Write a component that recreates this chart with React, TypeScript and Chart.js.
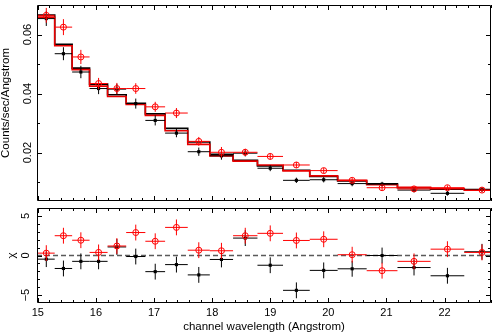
import React, { useEffect, useRef } from "react";
import { Chart, registerables } from "chart.js";

Chart.register(...registerables);

// ---------------- data ----------------
const binEdges = [15.0, 15.29, 15.59, 15.89, 16.2, 16.52, 16.85, 17.19, 17.58, 17.96, 18.36, 18.78, 19.22, 19.68, 20.16, 20.66, 21.19, 21.76, 22.34, 22.95];

const blackModel = [0.0666, 0.0567, 0.0486, 0.0432, 0.0396, 0.0367, 0.0331, 0.0282, 0.0236, 0.0194, 0.0174, 0.0155, 0.014, 0.0119, 0.0104, 0.0094, 0.0081, 0.0076, 0.0075];
const redModel = [0.0659, 0.0562, 0.0481, 0.0425, 0.039, 0.0363, 0.0326, 0.0274, 0.0228, 0.0189, 0.0171, 0.0158, 0.0138, 0.0121, 0.0106, 0.0091, 0.0082, 0.0078, 0.0073];

const blackData = [0.0654, 0.0535, 0.0473, 0.0417, 0.0415, 0.0366, 0.0309, 0.0266, 0.0203, 0.0189, 0.0198, 0.0147, 0.0106, 0.0108, 0.0095, 0.0093, 0.0073, 0.0062, 0.0075];
const blackErr = [0.0025, 0.0022, 0.0021, 0.0019, 0.0018, 0.0017, 0.0017, 0.0014, 0.0014, 0.0013, 0.0011, 0.001, 0.0009, 0.0009, 0.0009, 0.0008, 0.0008, 0.0008, 0.0008];
const redData = [0.0665, 0.0625, 0.0524, 0.0434, 0.0417, 0.0417, 0.0355, 0.0334, 0.0238, 0.0201, 0.0201, 0.0187, 0.0158, 0.0139, 0.0106, 0.0081, 0.0077, 0.0081, 0.0073];
const redErr = [0.0025, 0.0027, 0.0024, 0.0019, 0.0019, 0.0018, 0.0017, 0.0017, 0.0015, 0.0018, 0.0012, 0.0011, 0.001, 0.0009, 0.0009, 0.0008, 0.0008, 0.0008, 0.0008];

const blackChi = [-0.46, -1.64, -0.74, -0.74, 1.08, -0.13, -2.04, -1.15, -2.45, -0.5, 2.2, -1.23, -4.4, -1.88, -1.68, 0.0, -1.52, -2.56, 0.47];
const redChi = [0.3, 2.5, 1.93, 0.39, 1.2, 2.9, 1.8, 3.55, 0.67, 0.6, 2.5, 2.8, 1.9, 2.05, 0.1, -1.92, -0.74, 0.8, 0.39];
const chiErr = 1;

const xTicks = [15, 16, 17, 18, 19, 20, 21, 22];
const topYTicks = [0.02, 0.04, 0.06];
const botYTicks = [-5, 0, 5];

const X_MIN = 14.985;
const X_MAX = 22.8;
const TOP_Y_MIN = 0.0036;
const TOP_Y_MAX = 0.07;
const BOT_Y_MIN = -6;
const BOT_Y_MAX = 6;

const FONT = "'Liberation Sans', Arial, sans-serif";
const BLACK = "#000000";
const RED = "#ff0000";
const RED_MODEL = "#e80000";

// ---------------- helpers ----------------
const centers = blackData.map((_, i) => (binEdges[i] + binEdges[i + 1]) / 2);

function stepData(model: number[]) {
  return binEdges.map((e, i) => ({ x: e, y: model[Math.min(i, model.length - 1)] }));
}

function barData(vals: number[], errs: number[] | number) {
  const pts: { x: number; y: number | null }[] = [];
  vals.forEach((v, i) => {
    const e = typeof errs === "number" ? errs : errs[i];
    pts.push({ x: binEdges[i], y: v }, { x: binEdges[i + 1], y: v }, { x: binEdges[i + 1], y: null });
    pts.push({ x: centers[i], y: v - e }, { x: centers[i], y: v + e }, { x: centers[i], y: null });
  });
  return pts;
}

function pointData(vals: number[]) {
  return vals.map((v, i) => ({ x: centers[i], y: v }));
}

function lineDs(data: any[], color: string, width: number, order: number, extra: any = {}) {
  return {
    type: "line",
    data,
    borderColor: color,
    backgroundColor: color,
    borderWidth: width,
    pointRadius: 0,
    fill: false,
    spanGaps: false,
    order,
    ...extra,
  };
}

function markerDs(vals: number[], kind: "red" | "black", order: number) {
  return kind === "red"
    ? {
        type: "line",
        data: pointData(vals),
        showLine: false,
        pointStyle: "circle",
        pointRadius: 3,
        pointBorderWidth: 1,
        pointBorderColor: RED,
        pointBackgroundColor: "rgba(0,0,0,0)",
        order,
      }
    : {
        type: "line",
        data: pointData(vals),
        showLine: false,
        pointStyle: "rect",
        pointRadius: 2.2,
        pointBorderWidth: 0,
        pointBorderColor: BLACK,
        pointBackgroundColor: BLACK,
        order,
      };
}

function framePlugin(yMinor: number[], yMajor: number[]) {
  return {
    id: "frameTicks",
    afterDatasetsDraw(chart: any) {
      const { ctx, chartArea: ca, scales } = chart;
      const xs = scales.x;
      const ys = scales.y;
      ctx.save();
      ctx.strokeStyle = BLACK;
      ctx.lineWidth = 1;
      ctx.beginPath();
      ctx.rect(ca.left + 0.5, ca.top + 0.5, ca.right - ca.left - 1, ca.bottom - ca.top - 1);
      for (let k = 0; ; k++) {
        const v = 15 + k * 0.2;
        if (v > X_MAX) break;
        const major = Math.abs(v - Math.round(v)) < 1e-6;
        const len = major ? 5 : 3;
        const px = Math.round(xs.getPixelForValue(v)) + 0.5;
        ctx.moveTo(px, ca.top);
        ctx.lineTo(px, ca.top + len);
        ctx.moveTo(px, ca.bottom);
        ctx.lineTo(px, ca.bottom - len);
      }
      yMinor.forEach((v) => {
        const major = yMajor.some((m) => Math.abs(m - v) < 1e-9);
        const len = major ? 5 : 3;
        const py = Math.round(ys.getPixelForValue(v)) + 0.5;
        ctx.moveTo(ca.left, py);
        ctx.lineTo(ca.left + len, py);
        ctx.moveTo(ca.right, py);
        ctx.lineTo(ca.right - len, py);
      });
      ctx.stroke();
      ctx.restore();
    },
  };
}

const tickFont = { family: FONT, size: 11 };
const titleFont = { family: FONT, size: 11.5, lineHeight: 1 };

export default function App() {
  const topRef = useRef<HTMLCanvasElement>(null);
  const botRef = useRef<HTMLCanvasElement>(null);

  useEffect(() => {
    const topMinor = [0.01, 0.02, 0.03, 0.04, 0.05, 0.06];
    const botMinor = [-5, -4, -3, -2, -1, 0, 1, 2, 3, 4, 5];

    const topChart = new Chart(topRef.current as HTMLCanvasElement, {
      type: "line",
      data: {
        datasets: [
          markerDs(redData, "red", 0),
          lineDs(barData(redData, redErr), RED, 1, 1),
          markerDs(blackData, "black", 2),
          lineDs(barData(blackData, blackErr), BLACK, 1, 3),
          lineDs(stepData(redModel), RED_MODEL, 1.6, 4, { stepped: "before" }),
          lineDs(stepData(blackModel), BLACK, 1.6, 5, { stepped: "before" }),
        ] as any,
      },
      options: {
        responsive: false,
        maintainAspectRatio: false,
        animation: false,
        events: [],
        layout: { padding: { left: 0, right: 1, top: 1, bottom: 1 } },
        plugins: { legend: { display: false }, tooltip: { enabled: false } },
        scales: {
          x: { type: "linear", display: false, min: X_MIN, max: X_MAX },
          y: {
            type: "linear",
            min: TOP_Y_MIN,
            max: TOP_Y_MAX,
            afterBuildTicks: (s: any) => {
              s.ticks = topYTicks.map((v) => ({ value: v }));
            },
            afterFit: (s: any) => {
              s.width = 37;
              s.paddingTop = 0;
              s.paddingBottom = 0;
            },
            grid: { display: false, drawTicks: false },
            border: { display: false },
            ticks: {
              minRotation: 90,
              maxRotation: 90,
              crossAlign: "center",
              padding: -2,
              color: BLACK,
              font: tickFont,
              callback: (v: any) => Number(v).toFixed(2),
            },
            title: { display: true, text: "Counts/sec/Angstrom", color: BLACK, font: titleFont, padding: 0 },
          },
        },
      } as any,
      plugins: [framePlugin(topMinor, topYTicks)],
    });

    const botChart = new Chart(botRef.current as HTMLCanvasElement, {
      type: "line",
      data: {
        datasets: [
          markerDs(redChi, "red", 0),
          lineDs(barData(redChi, chiErr), RED, 1, 1),
          markerDs(blackChi, "black", 2),
          lineDs(barData(blackChi, chiErr), BLACK, 1, 3),
          lineDs(
            [
              { x: X_MIN, y: 0 },
              { x: X_MAX, y: 0 },
            ],
            "#5a5a5a",
            1.3,
            10,
            { borderDash: [5, 3] }
          ),
        ] as any,
      },
      options: {
        responsive: false,
        maintainAspectRatio: false,
        animation: false,
        events: [],
        layout: { padding: { left: 0, right: 1, top: 1, bottom: 0 } },
        plugins: { legend: { display: false }, tooltip: { enabled: false } },
        scales: {
          x: {
            type: "linear",
            min: X_MIN,
            max: X_MAX,
            afterBuildTicks: (s: any) => {
              s.ticks = xTicks.map((v) => ({ value: v }));
            },
            afterFit: (s: any) => {
              s.height = 30;
              s.paddingLeft = 0;
              s.paddingRight = 0;
            },
            grid: { display: false, drawTicks: false },
            border: { display: false },
            ticks: { padding: 3, color: BLACK, font: tickFont, maxRotation: 0, autoSkip: false, callback: (v: any) => String(v) },
            title: { display: true, text: "channel wavelength (Angstrom)", color: BLACK, font: titleFont, padding: 0 },
          },
          y: {
            type: "linear",
            min: BOT_Y_MIN,
            max: BOT_Y_MAX,
            afterBuildTicks: (s: any) => {
              s.ticks = botYTicks.map((v) => ({ value: v }));
            },
            afterFit: (s: any) => {
              s.width = 37;
              s.paddingTop = 0;
              s.paddingBottom = 0;
            },
            grid: { display: false, drawTicks: false },
            border: { display: false },
            ticks: {
              minRotation: 90,
              maxRotation: 90,
              crossAlign: "center",
              padding: 4.4,
              color: BLACK,
              font: tickFont,
              callback: (v: any) => (Number(v) < 0 ? "\u2212" + Math.abs(Number(v)) : String(v)),
            },
            title: { display: true, text: "\u03c7", color: BLACK, font: titleFont, padding: { top: 6, bottom: 0 } },
          },
        },
      } as any,
      plugins: [framePlugin(botMinor, botYTicks)],
    });

    return () => {
      topChart.destroy();
      botChart.destroy();
    };
  }, []);

  return (
    <div style={{ position: "fixed", left: 0, top: 0, width: 496, height: 333, background: "#ffffff" }}>
      <canvas ref={topRef} width={496} height={206} style={{ position: "absolute", left: 0, top: 0, width: 496, height: 206, display: "block" }} />
      <canvas ref={botRef} width={496} height={130} style={{ position: "absolute", left: 0, top: 203, width: 496, height: 130, display: "block" }} />
    </div>
  );
}
